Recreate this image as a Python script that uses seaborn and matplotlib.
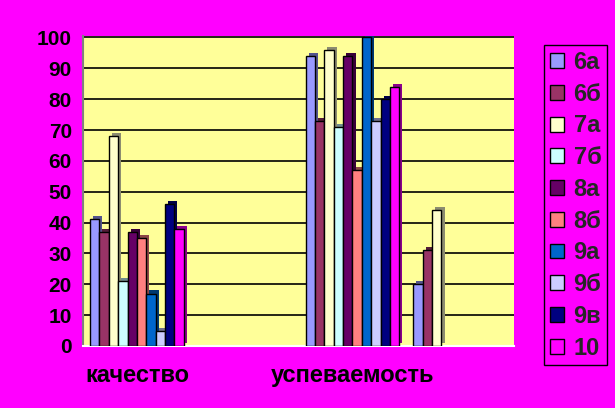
import matplotlib
matplotlib.use("Agg")
import matplotlib.pyplot as plt
import matplotlib.patheffects as pe
import seaborn as sns
import pandas as pd

categories = ["качество", " ", "успеваемость", "  "]
classes = ["6а", "6б", "7а", "7б", "8а", "8б", "9а", "9б", "9в", "10"]
kachestvo = [41, 37, 68, 21, 37, 35, 17, 5, 46, 38]
uspevaemost = [94, 73, 96, 71, 94, 57, 100, 73, 80, 84]
extra = [20, 31, 44]  # fourth (unlabelled) group: 6а, 6б, 7а
colors = ["#9999FF", "#993366", "#FFFFCC", "#CCFFFF", "#660066",
          "#FF8080", "#0066CC", "#CCCCFF", "#000080", "#FF00FF"]

rows = []
for c, v in zip(classes, kachestvo):
    rows.append((categories[0], c, v))
for c, v in zip(classes, uspevaemost):
    rows.append((categories[2], c, v))
for c, v in zip(classes, extra):
    rows.append((categories[3], c, v))
df = pd.DataFrame(rows, columns=["cat", "cls", "val"])

sns.set_style("white")
plt.rcParams["font.family"] = ["Liberation Sans", "DejaVu Sans"]
plt.rcParams["font.weight"] = "bold"

fig = plt.figure(figsize=(6.15, 4.08), dpi=100)
fig.patch.set_facecolor("#FF00FF")
ax = fig.add_axes([0.135, 0.152, 0.701, 0.76])
ax.set_facecolor("#FFFF99")

sns.barplot(data=df, x="cat", y="val", hue="cls", order=categories,
            hue_order=classes, palette=colors, width=0.87, gap=0,
            edgecolor="black", linewidth=1, saturation=1, ax=ax,
            legend=True, errorbar=None, zorder=3)

for p in ax.patches:
    p.set_path_effects([pe.SimplePatchShadow(offset=(2.2, 2.2), rho=0.55, alpha=1),
                        pe.Normal()])

ax.set_ylim(0, 100.5)
ax.set_xlim(-0.5, 3.5)
ax.set_yticks(range(0, 101, 10))
ax.yaxis.grid(True, color="black", linewidth=1.2)
ax.set_axisbelow(True)
ax.set_xlabel("")
ax.set_ylabel("")
ax.set_xticks([0, 1, 2, 3])
ax.set_xticklabels(categories)
ax.set_xticks([-0.5, 0.5, 1.5, 2.5, 3.5], minor=True)
ax.tick_params(axis="x", which="major", length=0, pad=13, labelsize=17)
ax.tick_params(axis="x", which="minor", length=5, width=1, color="black", direction="out")
ax.tick_params(axis="y", length=4, width=1, color="black", direction="out", labelsize=15, pad=4)
for lbl in ax.get_xticklabels() + ax.get_yticklabels():
    lbl.set_fontweight("bold")
    lbl.set_color("black")

for s in ["top", "right"]:
    ax.spines[s].set_visible(False)
ax.spines["left"].set_color("#808080")
ax.spines["left"].set_linewidth(1.5)
ax.spines["bottom"].set_color("white")
ax.spines["bottom"].set_linewidth(1.5)

handles, labels = ax.get_legend_handles_labels()
ax.get_legend().remove()
leg = fig.legend(handles, labels, loc="upper left",
                 bbox_to_anchor=(544 / 615, 1 - 45 / 408),
                 frameon=True, fancybox=False, edgecolor="black",
                 facecolor="#FF00FF", framealpha=1,
                 prop={"size": 17, "weight": "bold"},
                 handlelength=0.6, handleheight=0.6, handletextpad=0.4,
                 labelspacing=0.37, borderpad=0.25, borderaxespad=0)
leg.get_frame().set_linewidth(1)
for h in leg.legend_handles:
    h.set_path_effects([])

fig.savefig("out.png", dpi=100, facecolor=fig.get_facecolor())
